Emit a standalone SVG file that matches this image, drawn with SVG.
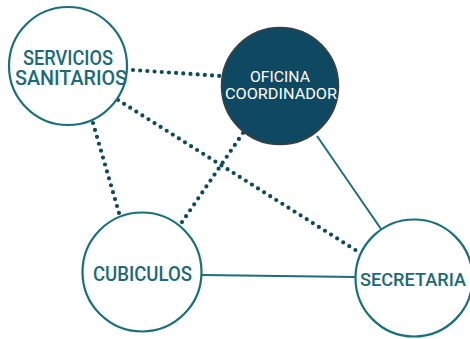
<svg xmlns="http://www.w3.org/2000/svg" width="470" height="339" viewBox="0 0 470 339">
<style>
.node{fill:#ffffff;stroke:#19707b;stroke-width:2.2}
.dark{fill:#0f4861;stroke:#3a3f44;stroke-width:1.5}
.lbl{font-family:Roboto,"Liberation Sans",Arial,sans-serif;font-weight:500;fill:#1a6b77;text-anchor:middle}
.wlbl{font-family:Roboto,"Liberation Sans",Arial,sans-serif;font-weight:400;fill:#ffffff;text-anchor:middle}
.dot{stroke:#0e4a5d;stroke-width:4.2;stroke-linecap:round;stroke-dasharray:0 7.2;fill:none}
.solid{stroke:#1a6f7a;stroke-width:2;fill:none}
</style>
<rect width="470" height="339" fill="#ffffff"/>
<g id="connectors">
<line class="dot" x1="133" y1="70" x2="220" y2="76"/>
<line class="dot" x1="118" y1="100" x2="357" y2="251"/>
<line class="dot" x1="93" y1="123" x2="119" y2="213"/>
<line class="dot" x1="243" y1="133" x2="180" y2="225"/>
<line class="solid" x1="317" y1="136" x2="381" y2="229"/>
<line class="solid" x1="202" y1="275" x2="356" y2="277"/>
</g>
<g id="servicios">
<circle class="node" cx="68" cy="66" r="59"/>
<text class="lbl" x="68" y="64.5" font-size="19.5" textLength="90" lengthAdjust="spacingAndGlyphs">SERVICIOS</text>
<text class="lbl" x="71" y="84.5" font-size="19.5" textLength="112" lengthAdjust="spacingAndGlyphs">SANITARIOS</text>
</g>
<g id="oficina">
<circle class="dark" cx="280" cy="86" r="58.5"/>
<text class="wlbl" x="280" y="81.5" font-size="15.5" textLength="60" lengthAdjust="spacingAndGlyphs">OFICINA</text>
<text class="wlbl" x="281" y="98.5" font-size="15.5" textLength="112" lengthAdjust="spacingAndGlyphs">COORDINADOR</text>
</g>
<g id="cubiculos">
<circle class="node" cx="142" cy="272" r="59.5"/>
<text class="lbl" x="142.5" y="281" font-size="20" textLength="99" lengthAdjust="spacingAndGlyphs">CUBICULOS</text>
</g>
<g id="secretaria">
<circle class="node" cx="414" cy="278" r="58.5"/>
<text class="lbl" x="413" y="286" font-size="19" textLength="106" lengthAdjust="spacingAndGlyphs">SECRETARIA</text>
</g>
</svg>
